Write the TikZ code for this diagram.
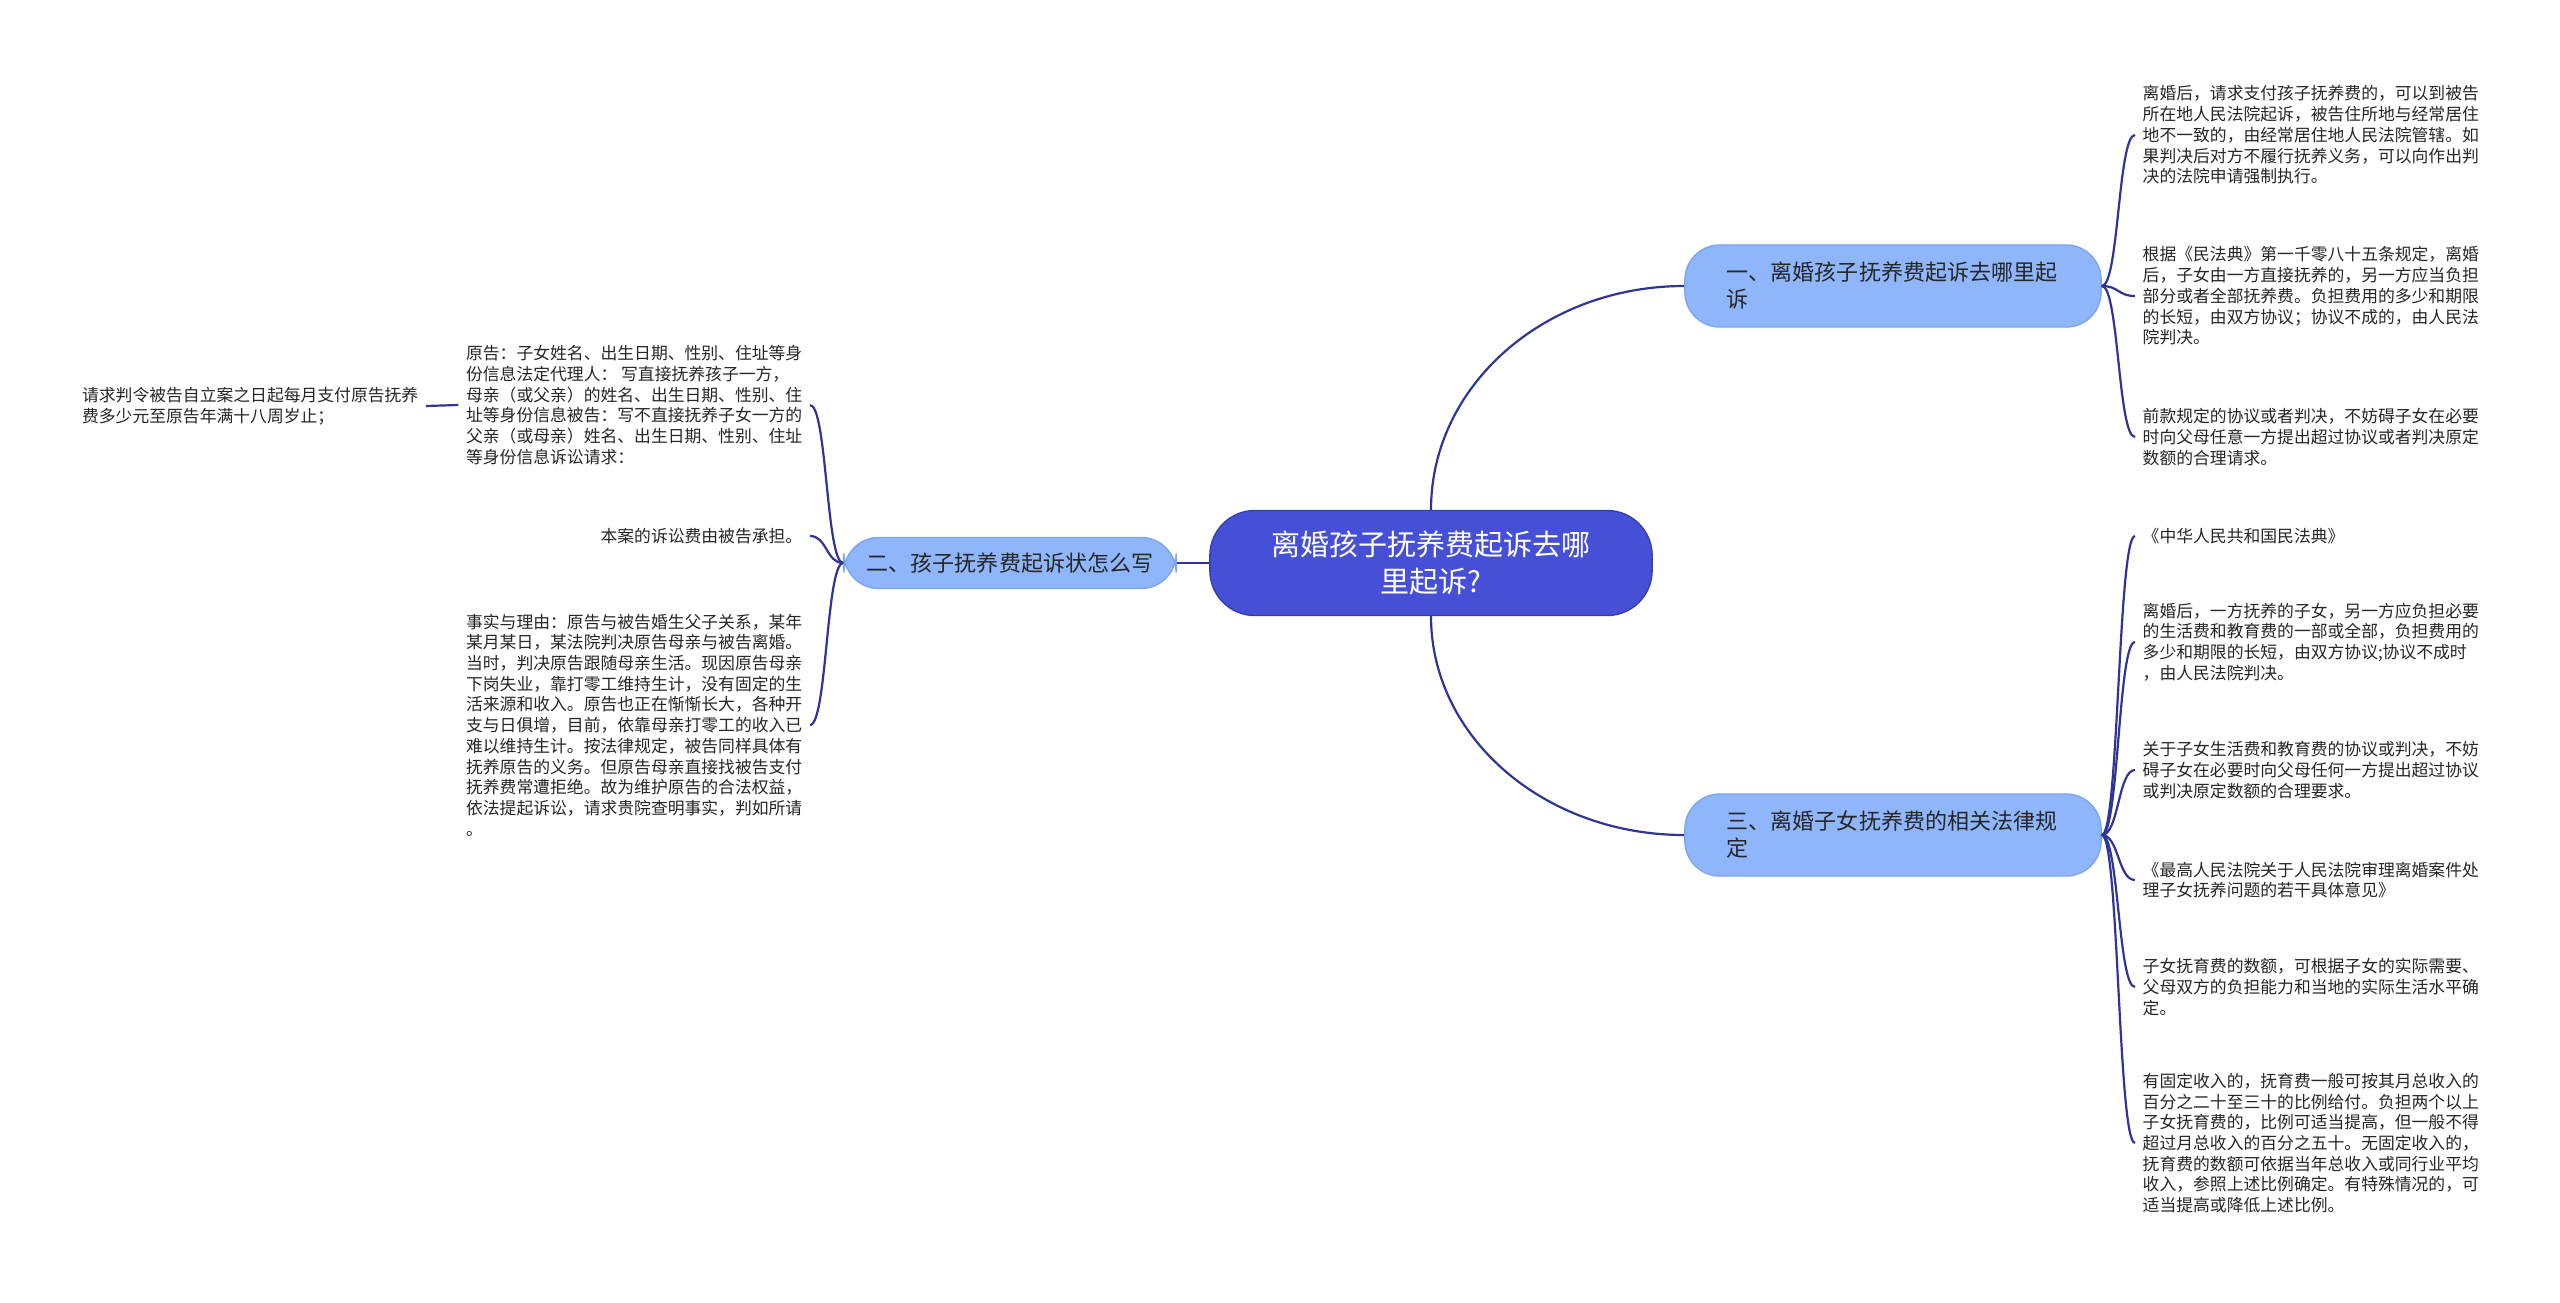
\documentclass[tikz,border=0pt]{standalone}
\usepackage{fontspec}
\usepackage{xcolor}
\setmainfont{Noto Sans CJK SC}
\definecolor{rootblue}{RGB}{70,80,214}
\definecolor{rootedge}{RGB}{55,62,175}
\definecolor{topicblue}{RGB}{143,182,250}
\definecolor{topicedge}{RGB}{125,165,240}
\definecolor{linkblue}{RGB}{47,53,151}
\newcommand{\leaffont}{\fontsize{4.78pt}{5.89pt}\selectfont}

\begin{document}
\begin{tikzpicture}[x=0.01cm,y=-0.01cm,
  root/.style={draw=rootedge,fill=rootblue,text=white,rounded corners=0.45cm,
    align=center,minimum width=4.42cm,minimum height=1.05cm,
    font=\fontsize{8.25pt}{10.5pt}\selectfont},
  topic/.style={draw=topicedge,fill=topicblue,text=black!85,rounded corners=0.35cm,
    font=\fontsize{6.26pt}{7.68pt}\selectfont},
  leaf/.style={align=left,inner xsep=0.07cm,inner ysep=0pt,text=black!85,font=\leaffont},
  link/.style={draw=linkblue,line width=0.022cm}]
\fill[white] (0,0) rectangle (2560,1303);
\useasboundingbox (0,0) rectangle (2560,1303);

\node[root] (root) at (1431,563) {离婚孩子抚养费起诉去哪\\里起诉?};
\node[topic,align=left,text width=3.32cm,inner xsep=0.42cm,minimum height=0.82cm] (t1) at (1893,286)
  {一、离婚孩子抚养费起诉去哪里起\\诉};
\node[topic,align=center,minimum width=3.32cm,minimum height=0.51cm] (t2) at (1010,563)
  {二、孩子抚养费起诉状怎么写};
\node[topic,align=left,text width=3.32cm,inner xsep=0.42cm,minimum height=0.82cm] (t3) at (1893,835)
  {三、离婚子女抚养费的相关法律规\\定};

% right side, first topic
\node[leaf,anchor=west] (r1) at (2135,135) {离婚后，请求支付孩子抚养费的，可以到被告\\所在地人民法院起诉，被告住所地与经常居住\\地不一致的，由经常居住地人民法院管辖。如\\果判决后对方不履行抚养义务，可以向作出判\\决的法院申请强制执行。};
\node[leaf,anchor=west] (r2) at (2135,296) {根据《民法典》第一千零八十五条规定，离婚\\后，子女由一方直接抚养的，另一方应当负担\\部分或者全部抚养费。负担费用的多少和期限\\的长短，由双方协议；协议不成的，由人民法\\院判决。};
\node[leaf,anchor=west] (r3) at (2135,437) {前款规定的协议或者判决，不妨碍子女在必要\\时向父母任意一方提出超过协议或者判决原定\\数额的合理请求。};

% right side, third topic
\node[leaf,anchor=west] (r4) at (2135,536) {《中华人民共和国民法典》};
\node[leaf,anchor=west] (r5) at (2135,642) {离婚后，一方抚养的子女，另一方应负担必要\\的生活费和教育费的一部或全部，负担费用的\\多少和期限的长短，由双方协议;协议不成时\\，由人民法院判决。};
\node[leaf,anchor=west] (r6) at (2135,770) {关于子女生活费和教育费的协议或判决，不妨\\碍子女在必要时向父母任何一方提出超过协议\\或判决原定数额的合理要求。};
\node[leaf,anchor=west] (r7) at (2135,880) {《最高人民法院关于人民法院审理离婚案件处\\理子女抚养问题的若干具体意见》};
\node[leaf,anchor=west] (r8) at (2135,987) {子女抚育费的数额，可根据子女的实际需要、\\父母双方的负担能力和当地的实际生活水平确\\定。};
\node[leaf,anchor=west] (r9) at (2135,1143) {有固定收入的，抚育费一般可按其月总收入的\\百分之二十至三十的比例给付。负担两个以上\\子女抚育费的，比例可适当提高，但一般不得\\超过月总收入的百分之五十。无固定收入的，\\抚育费的数额可依据当年总收入或同行业平均\\收入，参照上述比例确定。有特殊情况的，可\\适当提高或降低上述比例。};

% left side
\node[leaf,anchor=east] (l1) at (810,405) {原告：子女姓名、出生日期、性别、住址等身\\份信息法定代理人： 写直接抚养孩子一方，\\母亲（或父亲）的姓名、出生日期、性别、住\\址等身份信息被告：写不直接抚养子女一方的\\父亲（或母亲）姓名、出生日期、性别、住址\\等身份信息诉讼请求：};
\node[leaf,anchor=east] (l2) at (810,536) {本案的诉讼费由被告承担。};
\node[leaf,anchor=east] (l3) at (810,725) {事实与理由：原告与被告婚生父子关系，某年\\某月某日，某法院判决原告母亲与被告离婚。\\当时，判决原告跟随母亲生活。现因原告母亲\\下岗失业，靠打零工维持生计，没有固定的生\\活来源和收入。原告也正在惭惭长大，各种开\\支与日俱增，目前，依靠母亲打零工的收入已\\难以维持生计。按法律规定，被告同样具体有\\抚养原告的义务。但原告母亲直接找被告支付\\抚养费常遭拒绝。故为维护原告的合法权益，\\依法提起诉讼，请求贵院查明事实，判如所请\\。};
\node[leaf,anchor=east] (l4) at (426,406) {请求判令被告自立案之日起每月支付原告抚养\\费多少元至原告年满十八周岁止；};

\draw [link] (root.north) .. controls +(0,-124) and +(-140,0) .. (t1.west);
\draw [link] (root.south) .. controls +(0,121) and +(-140,0) .. (t3.west);
\draw [link] (root.west) -- (t2.east);
\foreach \leafname in {r1,r2,r3}
  \draw [link] (t1.east) .. controls +(17,0) and +(-17,0) .. (\leafname.west);
\foreach \leafname in {r4,r5,r6,r7,r8,r9}
  \draw [link] (t3.east) .. controls +(17,0) and +(-17,0) .. (\leafname.west);
\foreach \leafname in {l1,l2,l3}
  \draw [link] (t2.west) .. controls +(-17,0) and +(17,0) .. (\leafname.east);
\draw [link] (l1.west) -- (l4.east);
\end{tikzpicture}
\end{document}
